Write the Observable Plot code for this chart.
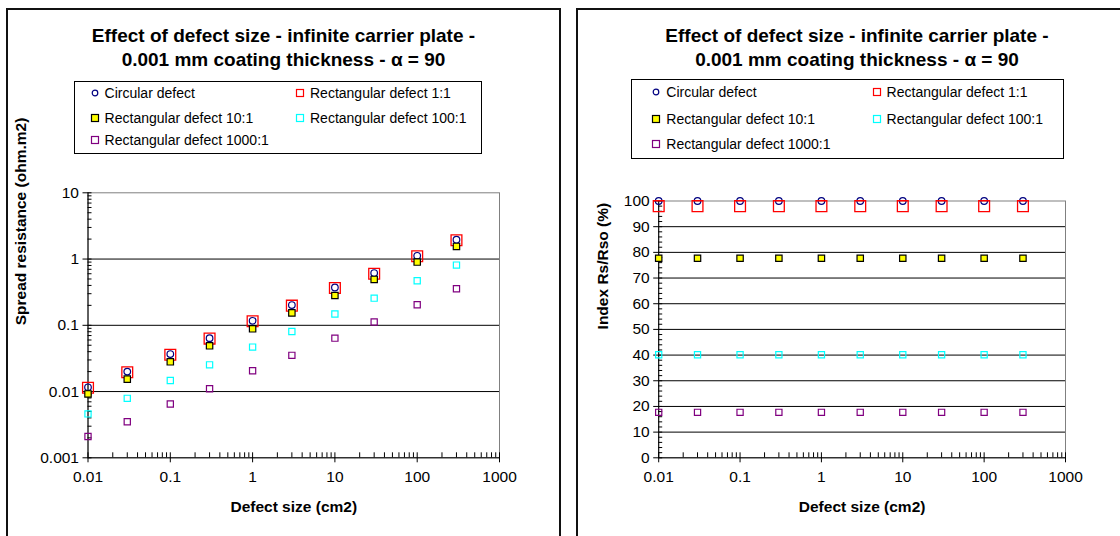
<!DOCTYPE html>
<html><head><meta charset="utf-8">
<script src="https://cdn.jsdelivr.net/npm/d3@7"></script>
<script src="https://cdn.jsdelivr.net/npm/@observablehq/plot@0.6"></script>
<style>
body{margin:0;width:1120px;height:536px;overflow:hidden;background:#fff;font-family:"Liberation Sans",Arial,sans-serif;position:relative;color:#000}
.panel{position:absolute;top:8px;height:560px;border:2px solid #111;box-sizing:border-box}
.title{position:absolute;left:0;right:0;text-align:center;font-weight:bold;font-size:19px;line-height:24px;white-space:nowrap}
.legend{position:absolute;border:1px solid #000;box-sizing:border-box;background:#fff}
.item{position:absolute;font-size:14px;white-space:nowrap;line-height:16px}
.mk{position:absolute;width:10px;height:10px}
.chart{position:absolute;top:0}
</style></head><body>
<script>
// ---------- data ----------
const defectSizes = [0.01, 0.03, 0.1, 0.3, 1, 3, 10, 30, 100, 300];
const seriesNames = ["Circular defect", "Rectangular defect 1:1", "Rectangular defect 10:1", "Rectangular defect 100:1", "Rectangular defect 1000:1"];
// Spread resistance (ohm.m2)
const spreadCircular = [0.0116, 0.020, 0.0368, 0.064, 0.117, 0.202, 0.372, 0.615, 1.12, 1.96];
const spreadRect1   = [0.0114, 0.0196, 0.036, 0.063, 0.115, 0.198, 0.365, 0.60, 1.10, 1.92];
const spreadRect10  = [0.0092, 0.0154, 0.0281, 0.049, 0.0885, 0.154, 0.282, 0.492, 0.90, 1.55];
const spreadRect100 = [0.0046, 0.0079, 0.0147, 0.0253, 0.0469, 0.0806, 0.148, 0.257, 0.47, 0.81];
const spreadRect1000= [0.0021, 0.0035, 0.0065, 0.011, 0.0206, 0.0352, 0.064, 0.112, 0.204, 0.356];
// Index Rs/Rso (%)
const indexCircular = [100, 100, 100, 100, 100, 100, 100, 100, 100, 100];
const indexRect1    = [98, 98, 98, 98, 98, 98, 98, 98, 98, 98];
const indexRect10   = [77.7, 77.7, 77.7, 77.7, 77.7, 77.7, 77.7, 77.7, 77.7, 77.7];
const indexRect100  = [40.1, 40.1, 40.1, 40.1, 40.1, 40.1, 40.1, 40.1, 40.1, 40.1];
const indexRect1000 = [17.7, 17.7, 17.7, 17.7, 17.7, 17.7, 17.7, 17.7, 17.7, 17.7];
// ticks
const xTicks = [0.01, 0.1, 1, 10, 100, 1000];
const xTickLabels = ["0.01", "0.1", "1", "10", "100", "1000"];
const yTicksLeft = [0.001, 0.01, 0.1, 1, 10];
const yTickLabelsLeft = ["0.001", "0.01", "0.1", "1", "10"];
const yTicksRight = [0, 10, 20, 30, 40, 50, 60, 70, 80, 90, 100];
const yTickLabelsRight = ["0", "10", "20", "30", "40", "50", "60", "70", "80", "90", "100"];
const titleLines = ["Effect of defect size - infinite carrier plate -", "0.001 mm coating thickness - \u03b1 = 90"];
const xLabel = "Defect size (cm2)";
const yLabelLeft = "Spread resistance (ohm.m2)";
const yLabelRight = "Index Rs/Rso (%)";

// minor log ticks
const minorLog = (lo, hi) => { const out = []; for (let p = lo; p < hi; p++) for (let m = 2; m <= 9; m++) out.push(+(m * Math.pow(10, p)).toPrecision(6)); return out; };
const xMinor = minorLog(-2, 3);
const yMinorLeft = minorLog(-3, 1);
const yMinorRight = d3.range(0, 101, 2).filter(v => v % 10 !== 0);

const styles = [
  {stroke: "#000080", fill: "none", symbol: "circle", r: 3.3, strokeWidth: 1.2},
  {stroke: "#ff0000", fill: "none", symbol: "square", r: 6.1, strokeWidth: 1.3},
  {stroke: "#000000", fill: "#ffff00", symbol: "square", r: 3.6, strokeWidth: 1.2},
  {stroke: "#00ffff", fill: "none", symbol: "square", r: 3.5, strokeWidth: 1.2},
  {stroke: "#800080", fill: "none", symbol: "square", r: 3.5, strokeWidth: 1.2}
];

function panel(left, width, legendBox, legendRows, legendCols) {
  const p = document.createElement("div");
  p.className = "panel";
  p.style.left = left + "px";
  p.style.width = width + "px";
  document.body.appendChild(p);
  const t = document.createElement("div");
  t.className = "title"; t.style.top = "14px";
  t.innerHTML = titleLines.join("<br>");
  p.appendChild(t);
  const lg = document.createElement("div");
  lg.className = "legend";
  Object.assign(lg.style, {left: legendBox[0] + "px", top: legendBox[1] + "px", width: legendBox[2] + "px", height: legendBox[3] + "px"});
  p.appendChild(lg);
  const pos = [[0,0],[1,0],[0,1],[1,1],[0,2]];
  seriesNames.forEach((name, i) => {
    const [c, r] = pos[i];
    const cx = legendCols[c], cy = legendRows[r];
    const s = styles[i];
    const mk = document.createElementNS("http://www.w3.org/2000/svg", "svg");
    mk.setAttribute("class", "mk");
    mk.setAttribute("width", 10); mk.setAttribute("height", 10);
    mk.style.left = (cx - 5) + "px"; mk.style.top = (cy - 5) + "px";
    mk.innerHTML = s.symbol === "circle"
      ? `<circle cx="5" cy="5" r="2.8" fill="none" stroke="${s.stroke}" stroke-width="1.2"/>`
      : `<rect x="1.5" y="1.5" width="7" height="7" fill="${s.fill}" stroke="${s.stroke}" stroke-width="1.2"/>`;
    lg.appendChild(mk);
    const it = document.createElement("div");
    it.className = "item"; it.textContent = name;
    it.style.left = (cx + 10) + "px"; it.style.top = (cy - 8) + "px";
    lg.appendChild(it);
  });
}

function chart(opts) {
  const {left, rows, yType, yDomain, yTicks, yTickLabels, yMinor, grid, mLeft, mRight, mTop, mBottom, yLabel, yLabelDx, yMinorLen} = opts;
  const W = 560, H = 536;
  const pw = W - mLeft - mRight, ph = H - mTop - mBottom;
  const keys = ["a", "b", "c", "d", "e"];
  const marks = [
    Plot.ruleY(grid, {stroke: "#000", strokeWidth: 1}),
    Plot.frame({stroke: "#808080"}),
    Plot.ruleX([xTicks[0]], {stroke: "#000"}),
    Plot.ruleY([yDomain[0]], {stroke: "#000"}),
    Plot.tickX(xMinor, {x: d => d, insetTop: ph - 5, stroke: "#000"}),
    Plot.tickX(xTicks, {x: d => d, insetTop: ph - 5, insetBottom: -5, stroke: "#000"}),
    Plot.tickY(yMinor, {y: d => d, insetRight: pw - yMinorLen, stroke: "#000"}),
    Plot.tickY(yTicks, {y: d => d, insetRight: pw - 4, insetLeft: -5, stroke: "#000"}),
    Plot.text(xTicks, {x: d => d, text: (d, i) => xTickLabels[i], frameAnchor: "bottom", dy: 24.4, fontSize: 15.5}),
    Plot.text(yTicks, {y: d => d, text: (d, i) => yTickLabels[i], frameAnchor: "left", dx: -9, textAnchor: "end", fontSize: 15.5}),
    ...keys.map((k, i) => Plot.dot(rows, {x: "x", y: k, ...styles[i]})),
    Plot.text([xLabel], {frameAnchor: "bottom", dy: 54.4, fontWeight: "bold", fontSize: 15.5}),
    Plot.text([yLabel], {frameAnchor: "left", dx: yLabelDx, rotate: -90, fontWeight: "bold", fontSize: 15.5})
  ];
  const svg = Plot.plot({
    width: W, height: H,
    marginLeft: mLeft, marginRight: mRight, marginTop: mTop, marginBottom: mBottom,
    x: {type: "log", domain: [0.01, 1000], axis: null},
    y: {type: yType, domain: yDomain, axis: null},
    style: {background: "transparent", fontFamily: "'Liberation Sans', Arial, sans-serif", fontSize: "15px", color: "#000", overflow: "visible"},
    marks
  });
  svg.classList.add("chart");
  svg.style.left = left + "px";
  svg.style.position = "absolute";
  svg.style.top = "0px";
  document.body.appendChild(svg);
}

panel(6, 555, [66, 71, 408, 73], [10.7, 35.7, 58.3], [19.6, 225]);
panel(576, 562, [53, 68.7, 433, 80.6], [12, 39.6, 64.6], [24.3, 244.6]);

const rowsLeft = defectSizes.map((x, i) => ({x, a: spreadCircular[i], b: spreadRect1[i], c: spreadRect10[i], d: spreadRect100[i], e: spreadRect1000[i]}));
const rowsRight = defectSizes.map((x, i) => ({x, a: indexCircular[i], b: indexRect1[i], c: indexRect10[i], d: indexRect100[i], e: indexRect1000[i]}));

chart({left: 0, rows: rowsLeft, yType: "log", yDomain: [0.001, 10], yTicks: yTicksLeft, yTickLabels: yTickLabelsLeft, yMinor: yMinorLeft,
  grid: [0.01, 0.1, 1], mLeft: 87.5, mRight: 61, mTop: 192.3, mBottom: 78.7, yLabel: yLabelLeft, yLabelDx: -66.5, yMinorLen: 4});
chart({left: 560, rows: rowsRight, yType: "linear", yDomain: [0, 100], yTicks: yTicksRight, yTickLabels: yTickLabelsRight, yMinor: yMinorRight,
  grid: [10, 20, 30, 40, 50, 60, 70, 80, 90], mLeft: 98.2, mRight: 55, mTop: 200.5, mBottom: 78.7, yLabel: yLabelRight, yLabelDx: -56, yMinorLen: 4});
</script>
</body></html>
